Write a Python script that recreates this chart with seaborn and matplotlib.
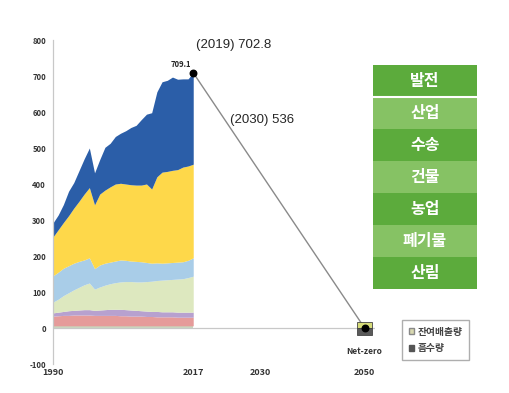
import numpy as np
import matplotlib
matplotlib.use("Agg")
import matplotlib.pyplot as plt
from matplotlib.colors import ListedColormap
from matplotlib.patches import Patch
import seaborn as sns

# Emissions by layer (cumulative tops, Mt CO2eq), 1990-2017
years = list(range(1990, 2018))
top_total = [292, 314, 343, 380, 404, 437, 470, 500, 431, 468, 502, 513, 532, 541,
             548, 557, 563, 579, 594, 598, 656, 684, 688, 697, 691, 692, 692, 709.1]
top_yellow = [253, 273, 293, 312, 333, 352, 372, 390, 342, 372, 383, 392, 400, 402,
              400, 398, 397, 397, 400, 386, 420, 433, 435, 438, 440, 447, 450, 455]
top_lblue = [145, 155, 166, 173, 180, 185, 189, 195, 165, 175, 180, 183, 186, 189,
             188, 186, 185, 184, 182, 180, 181, 180, 181, 182, 183, 184, 188, 195]
top_lgreen = [72, 80, 90, 98, 106, 113, 120, 125, 108, 114, 119, 123, 126, 128,
              129, 129, 128, 128, 129, 130, 132, 133, 134, 135, 136, 137, 140, 144]
top_purple = [42, 44, 46, 48, 49, 50, 51, 51, 49, 50, 51, 52, 52, 52,
              51, 50, 49, 48, 47, 46, 46, 45, 45, 45, 44, 44, 44, 44]
top_pink = [33, 34, 35, 35, 36, 36, 36, 36, 35, 35, 35, 35, 35, 34,
            34, 33, 33, 33, 32, 32, 31, 31, 31, 31, 30, 30, 30, 30]
top_base = [6] * 28

layer_colors = ["#c9d6bd", "#e59b9a", "#b7a1cf", "#dde8bf", "#a9cde8", "#fed84a", "#2b5ea8"]

# path to net-zero
path_years = [2017, 2050]
path_values = [709.1, 0]
residual_2050 = 17
absorption_2050 = -20

x_ticks = [1990, 2017, 2030, 2050]
y_ticks = [-100, 0, 100, 200, 300, 400, 500, 600, 700, 800]

sectors = ["발전", "산업", "수송", "건물", "농업", "폐기물", "산림"]

sns.set_theme(style="white")
plt.rcParams["font.family"] = ["Noto Sans CJK KR", "DejaVu Sans"]

fig = plt.figure(figsize=(5.1, 3.93), dpi=100)
ax = fig.add_axes([53 / 510, 29 / 393, 322 / 510, 324 / 393])

layers = [top_base, top_pink, top_purple, top_lgreen, top_lblue, top_yellow, top_total]
bottom = [0] * len(years)
for top, c in zip(layers, layer_colors):
    ax.fill_between(years, bottom, top, color=c, linewidth=0)
    bottom = top

ax.axhline(0, color="#c8c8c8", lw=0.9, zorder=1)

sns.lineplot(x=path_years, y=path_values, color="#8a8a8a", lw=1, ax=ax)

# net-zero bar
ax.bar(2050, residual_2050, width=3, color="#d6dc7a", edgecolor="#444444", lw=0.6, zorder=3)
ax.bar(2050, absorption_2050, width=3, color="#5a5a5a", edgecolor="#444444", lw=0.6, zorder=3)
ax.scatter(path_years, path_values, color="black", s=22, zorder=4)

ax.text(2017 - 2.3, 733, "709.1", ha="center", va="center", fontsize=5.5, weight="bold")
ax.text(2017.6, 786, "(2019) 702.8", ha="left", va="center", fontsize=9.5,
        family="Liberation Sans")
ax.text(2024, 578, "(2030) 536", ha="left", va="center", fontsize=9.5,
        family="Liberation Sans")
ax.text(2050, -66, "Net-zero", ha="center", va="center", fontsize=6, weight="bold", color="#333333")

ax.set_xlim(1990, 2052)
ax.set_ylim(-100, 800)
ax.set_xticks(x_ticks)
ax.set_xticklabels([str(t) for t in x_ticks], fontsize=6.5, weight="bold", color="#333333")
ax.set_yticks(y_ticks)
ax.set_yticklabels([str(t) for t in y_ticks], fontsize=5.5, weight="bold", color="#333333")
ax.tick_params(axis="y", length=3, color="#c8c8c8", width=0.8, pad=2)
ax.tick_params(axis="x", length=0, pad=3)
for s in ["top", "right", "bottom"]:
    ax.spines[s].set_visible(False)
ax.spines["left"].set_color("#c8c8c8")
ax.spines["left"].set_linewidth(0.9)

handles = [Patch(facecolor="#d8d8b0", edgecolor="#888888", label="잔여배출량"),
           Patch(facecolor="#555555", edgecolor="#555555", label="흡수량")]
leg = fig.legend(handles=handles, loc="upper left", bbox_to_anchor=(397 / 510, 1 - 315 / 393),
                 fontsize=7, frameon=True, handlelength=0.5, handleheight=0.5,
                 handletextpad=0.4, labelspacing=0.7, borderpad=0.7, fancybox=False)
leg.get_frame().set_edgecolor("#9a9a9a")
for t in leg.get_texts():
    t.set_color("#444444")
    t.set_weight("bold")

# sector table on the right
ax2 = fig.add_axes([373 / 510, 1 - 289 / 393, 104 / 510, 224 / 393])
shade = np.array([[1], [0], [1], [0], [1], [0], [1]])
labels = np.array([[s] for s in sectors])
sns.heatmap(shade, cmap=ListedColormap(["#86c264", "#5cab3c"]), cbar=False,
            annot=labels, fmt="", xticklabels=False, yticklabels=False, ax=ax2,
            annot_kws={"color": "white", "fontsize": 11.5, "weight": "bold",
                       "family": ["Noto Sans CJK KR", "DejaVu Sans"]})
ax2.axhline(1, color="white", lw=1.5)

fig.savefig("out.png", dpi=100)
